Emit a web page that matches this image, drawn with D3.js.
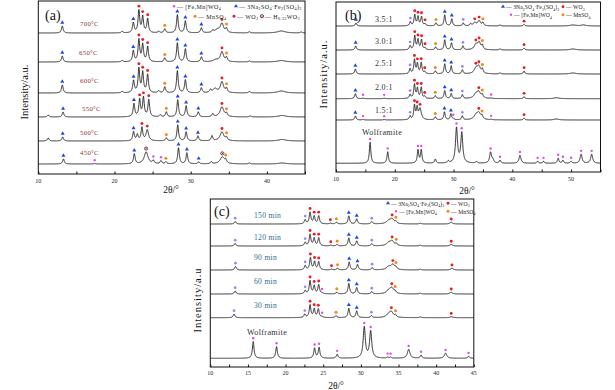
<!DOCTYPE html>
<html><head><meta charset="utf-8">
<script src="https://cdn.jsdelivr.net/npm/d3@7"></script>
<style>body{margin:0;background:#fff}svg{display:block}text{font-family:"Liberation Serif","Times New Roman",serif}</style>
</head><body><svg id="chart" width="615" height="390"></svg>
<script>
// ================= DATA =================
const xTicksA = [10, 20, 30, 40];
const xTicksB = [10, 20, 30, 40, 50];
const xTicksC = [10, 15, 20, 25, 30, 35, 40, 45];
const labelsA = ["700°C", "650°C", "600°C", "550°C", "500°C", "450°C"];
const labelsB = ["3.5:1", "3.0:1", "2.5:1", "2.0:1", "1.5:1", "Wolframite"];
const labelsC = ["150 min", "120 min", "90 min", "60 min", "30 min", "Wolframite"];
// phase codes: F=[Fe,Mn]WO4, N=3Na2SO4·Fe2(SO4)3, L=3Na2SO4·Fe2(SO4)3 (light mark), M=MnSO4, W=WO3, H=H0.23WO3
// each peak: [2θ, height, phase, half-width]
const peaksA = [
  [[13.15,7,"N"],[21.0,1.5],[22.47,10,"N"],[23.2,22,"W"],[23.7,16,"W"],[24.35,14,"W"],[25.8,1.5],[26.6,4,"M"],[28.25,18,"N"],[29.3,12,"N"],[31.4,5,"N"],[32.9,2],[33.5,3,null,0.4],[34.1,9,"W",0.25],[34.7,4,"M"],[37.7,1.2],[41.9,2,null,0.6],[44.5,1]],
  [[13.15,6,"N"],[21.0,1.5],[22.47,11,"N"],[23.2,22,"W"],[23.7,17,"W"],[24.35,15,"W"],[26.6,4,"M"],[28.25,19,"N"],[29.3,13,"N"],[31.4,5,"N"],[33.3,2,null,0.4],[34.1,10,"W",0.25],[34.7,4,"M"],[37.7,1],[41.9,1.5,null,0.6]],
  [[13.15,8,"N"],[21.0,1.5],[22.5,12,"N"],[23.2,24,"W"],[23.7,20,"W"],[24.35,18,"W"],[25.8,2],[26.6,6,"M"],[28.25,22,"N"],[29.3,13,"N"],[31.4,5,"N"],[32.6,3],[33.2,4,null,0.3],[34.1,11,"W",0.25],[34.7,4,"M"],[37.7,1.5],[41.9,2,null,0.6]],
  [[11.3,2],[13.25,5,"N"],[22.55,13,"N"],[23.3,17,"W"],[23.8,19,"W"],[24.5,17,"W"],[26.0,2],[26.8,5,"M"],[28.3,17,"N"],[29.4,11,"N"],[31.0,5,"N"],[32.9,3],[34.1,10,"W",0.3],[34.7,3,"M"],[37.8,1],[42.0,1.5,null,0.6]],
  [[11.3,3],[13.2,4,"N"],[22.5,9,"N"],[23.0,6],[23.6,13,"W"],[24.3,11,"W",0.2],[26.8,3,"M"],[28.3,16,"N"],[29.4,9,"N"],[30.95,5,"N"],[32.8,5],[34.1,9,"W",0.3],[34.7,3,"M"],[42.0,1.5,null,0.6]],
  [[13.3,5,"N"],[17.4,0.5,"F"],[22.6,10,"N"],[24.15,12,"H",0.3],[25.1,3,"F"],[26.1,3,"F"],[26.75,2,"M"],[28.4,16,"N"],[29.5,11,"N"],[31.05,2,"N"],[32.7,2],[34.15,7,"H",0.35],[34.6,3,"M"],[37.7,1],[42.0,1,null,0.6]]
];
const peaksB = [
  [[13.4,3,"N"],[22.65,4,"L"],[23.4,11,"W"],[23.95,9,"W"],[24.55,9,"W"],[25.15,2,"W"],[27.0,3,"M"],[28.5,11,"N"],[29.7,7,"N"],[31.65,3,"L"],[32.9,2],[33.6,3,"W",0.3],[34.35,5,"W",0.3],[35.0,3,"M"],[37.9,1],[42.0,1.5,"W"],[50.3,1,null,0.6],[52.1,1,null,0.5]],
  [[13.35,4,"N"],[22.6,4,"L"],[23.4,14,"W"],[23.95,10,"W"],[24.55,10,"W"],[25.15,2,"W"],[26.95,3,"M"],[28.5,10,"N"],[29.65,7,"N"],[31.6,4,"L"],[33.8,5,"W",0.35],[34.35,7,"W",0.3],[34.9,4,"M"],[37.9,1],[42.0,2,"W"],[50.3,1,null,0.6]],
  [[13.3,5,"N"],[22.6,5,"L"],[23.35,14,"W"],[23.85,10,"W"],[24.5,11,"W"],[25.1,2,"W"],[26.9,3,"M"],[28.5,10,"N"],[29.6,8,"N"],[31.5,4,"L"],[33.8,5,"W",0.35],[34.3,7,"W",0.35],[34.9,4,"M"],[37.9,1],[42.0,3,"W"],[50.3,1,null,0.6]],
  [[13.3,5,"N"],[14.6,0.5,"F"],[18.2,0.5,"F"],[22.6,4,"L"],[23.35,14,"W"],[23.85,10,"W"],[24.5,11,"W"],[25.1,2,"W"],[26.9,3,"M"],[28.5,8,"N"],[29.6,5,"N"],[31.5,4,"L"],[33.8,4,null,0.4],[34.3,6,"W",0.4],[34.9,3,"M"],[36.4,0.5,"F"],[42.0,2,"W"],[47.5,1,null,0.5]],
  [[13.3,4,"N"],[14.6,0.5,"F"],[18.2,0.5,"F"],[22.6,3.5,"L"],[23.35,14,"W"],[23.8,11,"W"],[24.3,11,"W",0.25],[26.9,3,"M"],[28.45,8,"N"],[29.55,6,"N"],[29.95,1,"F"],[31.5,4,"L"],[33.8,4,null,0.4],[34.3,6.5,"W",0.4],[34.85,3,"M"],[36.4,0.5,"F"],[42.0,2,"W"],[47.5,1,null,0.5]],
  [[15.8,21,"F"],[18.8,11.5,"F"],[23.95,13,"F"],[24.5,13,"F"],[26.9,4],[29.1,2],[30.5,35,"F",0.2],[31.4,30,"F",0.2],[33.9,1.5],[36.3,11,"F",0.2],[36.7,3],[37.9,3,"F"],[41.3,8,"F",0.2],[44.3,2,"F"],[45.3,2,"F"],[47.8,5,"F"],[48.6,3,"F"],[50.0,2,"F"],[51.7,9,"F",0.2],[53.5,9,"F",0.2]]
];
const peaksC = [
  [[13.3,2.5,"L"],[22.6,4,"L"],[23.25,11.5,"W"],[23.8,7.5,"W"],[24.4,8,"W"],[25.95,0.8,"W"],[26.75,1.7,"M"],[28.4,8,"N"],[29.45,5,"N"],[31.45,2.3,"L"],[33.7,3,null,0.35],[34.15,4.5,"W",0.3],[34.65,2,"M"],[37.9,0.8],[42.0,1.7,"W",0.2]],
  [[13.3,2.5,"L"],[22.6,3.5,"L"],[23.25,11.5,"W"],[23.8,7.5,"W"],[24.4,8,"W"],[26.0,0.8,"W"],[26.85,1.5,"M"],[28.4,8,"N"],[29.45,5,"N"],[31.45,2.3,"L"],[33.7,3,null,0.35],[34.15,4.5,"W",0.3],[34.7,2,"M"],[37.9,0.8],[42.0,1.5,"W",0.2]],
  [[13.35,3.5,"L"],[22.6,4.3,"L"],[23.3,12,"W"],[23.85,8,"W"],[24.4,8,"W"],[26.1,0.8,"W"],[26.9,1.7,"M"],[28.45,8,"N"],[29.55,5.5,"N"],[31.5,2.3,"L"],[33.7,3,null,0.35],[34.25,5,"W",0.3],[34.65,2,"M"],[37.9,0.8],[42.1,1.7,"W",0.2]],
  [[13.3,3,"L"],[22.6,3.3,"L"],[23.25,13,"W"],[23.8,8,"W"],[24.4,9,"W"],[24.85,0.8,"F"],[26.8,1.7,"M"],[28.4,10.5,"N"],[29.45,6.3,"N"],[31.45,2.3,"L"],[33.7,3,null,0.35],[34.1,5.5,"W",0.3],[34.55,2,"M"],[37.9,0.8],[42.0,1.7,"W",0.2]],
  [[13.15,3.7,"L"],[22.55,3.3,"L"],[23.25,12.5,"W"],[23.8,8.5,"W"],[24.35,8.5,"W"],[24.85,0.8,"F"],[26.7,2,"M"],[28.4,9.3,"N"],[29.45,6.7,"N"],[31.4,2,"L"],[33.7,3,null,0.35],[34.05,5,"W",0.3],[34.6,2,"M"],[37.9,0.8],[42.0,1,"W",0.2]],
  [[15.7,16.7,"F"],[18.8,11.7,"F"],[23.85,10,"F"],[24.45,10.7,"F"],[26.85,4,"F"],[30.45,31,"F",0.17],[31.3,26.7,"F",0.17],[33.55,1,"F"],[33.95,1,"F"],[36.35,9,"F",0.2],[38.0,3,"F"],[41.25,5,"F",0.2],[44.3,2,"F"]]
];

// ================= LAYOUT / STYLE =================
const svg = d3.select("#chart");
const phaseStyle = {
  N: {shape: "tri", color: "#2346e4"},
  L: {shape: "dot", color: "#9787f5", r: 1.35},
  F: {shape: "dot", color: "#e14ee6", r: 1.2},
  M: {shape: "dot", color: "#f28a1b", r: 1.5},
  W: {shape: "dot", color: "#e61e27", r: 1.45},
  H: {shape: "ring", color: "#5a120a"}
};

function drawMarker(g, x, y, code) {
  const s = phaseStyle[code];
  if (!s) return;
  if (s.shape === "tri") {
    g.append("path").attr("d", d3.symbol(d3.symbolTriangle, 7)()).attr("transform", `translate(${x},${y})`).attr("fill", s.color);
  } else if (s.shape === "dot") {
    g.append("circle").attr("cx", x).attr("cy", y).attr("r", s.r).attr("fill", s.color);
  } else {
    g.append("circle").attr("cx", x).attr("cy", y).attr("r", 1.6).attr("fill", "#fff").attr("stroke", s.color).attr("stroke-width", 0.8);
    g.append("circle").attr("cx", x).attr("cy", y).attr("r", 0.55).attr("fill", s.color);
  }
}

function rich(g, x, y, str, size, color) {
  const t = g.append("text").attr("x", x).attr("y", y).attr("font-size", size).attr("fill", color || "#222");
  const parts = str.split(/(_\{[^}]*\})/).filter(p => p.length);
  let sub = false;
  parts.forEach(p => {
    const m = p.match(/^_\{([^}]*)\}$/);
    if (m) {
      t.append("tspan").attr("font-size", size * 0.68).attr("dy", sub ? 0 : size * 0.28).text(m[1]);
      sub = true;
    } else {
      t.append("tspan").attr("dy", sub ? -size * 0.28 : 0).text(p);
      sub = false;
    }
  });
  return t;
}

const panels = [
  {left: 38.3, right: 305, top: 1, bottom: 174, domain: [10, 45], ticks: xTicksA, minor: 5,
   labels: labelsA, peaks: peaksA, bases: [33, 62, 93, 117, 141, 164], hw: 0.13,
   labX: [80, 79, 80, 82, 80, 80], labY: [25.5, 54.5, 82.5, 110.5, 134.5, 154.5], labSize: 6.8, labColor: "#8a3a3a",
   lastSpecial: false, tickY: 183, title: "(a)", titleX: 45, titleY: 20, xlab: [171, 193], ylab: [24, 92], ylabSpacing: 0,
   legSize: 6, legSpacing: 0.4,
   legend: [
     {code: "F", x: 174, y: 6.5, text: "— [Fe,Mn]WO_{4}"},
     {code: "N", x: 236, y: 6.5, text: "— 3Na_{2}SO_{4}·Fe_{2}(SO_{4})_{3}"},
     {code: "M", x: 195, y: 16.5, text: "— MnSO_{4}"},
     {code: "W", x: 234, y: 16.5, text: "— WO_{3}"},
     {code: "H", x: 262, y: 16.5, text: "— H_{0.23}WO_{3}"}
   ]},
  {left: 336, right: 600.5, top: 2, bottom: 172, domain: [10, 55], ticks: xTicksB, minor: 5,
   labels: labelsB, peaks: peaksB, bases: [26, 50, 74, 98.7, 120, 163.3], hw: 0.15,
   labX: [375, 375, 375, 375, 375, 362], labY: [22, 44, 66, 90, 113, 134.5], labSize: 8, labColor: "#333",
   lastSpecial: true, tickY: 181, title: "(b)", titleX: 345, titleY: 20, xlab: [467, 194], ylab: [323, 74], ylabSpacing: 1,
   legSize: 5.6, legSpacing: 0.1,
   legend: [
     {code: "N", x: 503, y: 7, text: "— 3Na_{2}SO_{4}·Fe_{2}(SO_{4})_{3}"},
     {code: "W", x: 563, y: 7, text: "— WO_{3}"},
     {code: "F", x: 511, y: 15, text: "— [Fe,Mn]WO_{4}"},
     {code: "M", x: 563, y: 15, text: "— MnSO_{4}"}
   ]},
  {left: 210.3, right: 473.8, top: 199, bottom: 367, domain: [10, 45], ticks: xTicksC, minor: 2.5,
   labels: labelsC, peaks: peaksC, bases: [224, 246, 270, 294, 317.7, 358.3], hw: 0.13,
   labX: [254, 254, 254, 254, 254, 247], labY: [218, 240, 260, 284, 307.5, 335], labSize: 7.6, labColor: "#2f6f8f",
   lastSpecial: true, tickY: 375, title: "(c)", titleX: 214, titleY: 216, xlab: [336, 389], ylab: [197, 300], ylabSpacing: 1,
   legSize: 5.6, legSpacing: 0.1,
   legend: [
     {code: "N", x: 388, y: 203.5, text: "— 3Na_{2}SO_{4}·Fe_{2}(SO_{4})_{3}"},
     {code: "W", x: 448, y: 203.5, text: "— WO_{3}"},
     {code: "F", x: 396, y: 211.5, text: "— [Fe,Mn]WO_{4}"},
     {code: "M", x: 448, y: 211.5, text: "— MnSO_{4}"}
   ]}
];

panels.forEach(P => {
  const g = svg.append("g");
  const x = d3.scaleLinear().domain(P.domain).range([P.left, P.right]);
  // intensity scale: 1 unit = 1 px upward from the bottom axis
  const y = d3.scaleLinear().domain([0, P.bottom - P.top]).range([P.bottom, P.top]);

  // frame
  g.append("rect").attr("x", P.left).attr("y", P.top).attr("width", P.right - P.left).attr("height", P.bottom - P.top)
    .attr("fill", "none").attr("stroke", "#111").attr("stroke-width", 1);

  // axis (inward ticks)
  const minorTicks = d3.range(P.domain[0], P.domain[1] + 0.001, P.minor);
  const ax = d3.axisBottom(x).tickValues(minorTicks).tickSize(-2.5).tickFormat("");
  g.append("g").attr("transform", `translate(0,${P.bottom})`).call(ax)
    .call(s => s.select(".domain").remove())
    .call(s => s.selectAll("line").attr("stroke", "#111"));
  g.selectAll(".tl").data(P.ticks).join("text").attr("x", d => x(d)).attr("y", P.tickY)
    .attr("text-anchor", "middle").attr("font-size", 6).attr("fill", "#222").text(d => d);

  const clipId = "clip" + P.title.replace(/[()]/g, "");
  svg.append("clipPath").attr("id", clipId).append("rect").attr("x", P.left).attr("y", P.top)
    .attr("width", P.right - P.left).attr("height", P.bottom - P.top);

  const xs = d3.range(P.domain[0], P.domain[1] + 1e-9, 0.015);
  const line = d3.line().x(d => x(d[0])).y(d => y(d[1]));

  P.peaks.forEach((pk, i) => {
    const off = P.bottom - P.bases[i];
    const prof = v => pk.reduce((s, p) => {
      const w = p[3] || P.hw;
      const dx = (v - p[0]) / w;
      return s + p[1] / (1 + dx * dx);
    }, 0);
    const pts = xs.map(v => [v, off + prof(v)]);
    g.append("path").attr("d", line(pts)).attr("fill", "none").attr("stroke", "#111")
      .attr("stroke-width", 0.85).attr("stroke-linejoin", "round").attr("clip-path", `url(#${clipId})`);
    pk.forEach(p => {
      if (p[2]) drawMarker(g, x(p[0]), y(off + prof(p[0])) - 3.3, p[2]);
    });
    const special = P.lastSpecial && i === 5;
    g.append("text").attr("x", P.labX[i]).attr("y", P.labY[i]).attr("font-size", special ? 8.2 : P.labSize)
      .attr("fill", special ? "#333" : P.labColor).attr("letter-spacing", 0.3).text(P.labels[i]);
  });

  // legend
  P.legend.forEach(L => {
    drawMarker(g, L.x, L.y - 0.3, L.code);
    rich(g, L.x + 3, L.y + 2, L.text, P.legSize, "#1a1a1a").attr("letter-spacing", P.legSpacing);
  });

  // panel tag
  g.append("text").attr("x", P.titleX).attr("y", P.titleY).attr("font-size", 14).attr("fill", "#111").text(P.title);
  // axis titles
  g.append("text").attr("x", P.xlab[0]).attr("y", P.xlab[1]).attr("text-anchor", "middle").attr("font-size", 9.5)
    .attr("fill", "#111").text("2θ/°");
  g.append("text").attr("transform", `translate(${P.ylab[0]},${P.ylab[1]}) rotate(-90)`).attr("text-anchor", "middle")
    .attr("dy", "0.35em").attr("font-size", 10.5).attr("letter-spacing", P.ylabSpacing).attr("fill", "#111")
    .text(P.title === "(c)" ? "Intensity/a.u" : "Intensity/a.u.");
});
</script></body></html>
